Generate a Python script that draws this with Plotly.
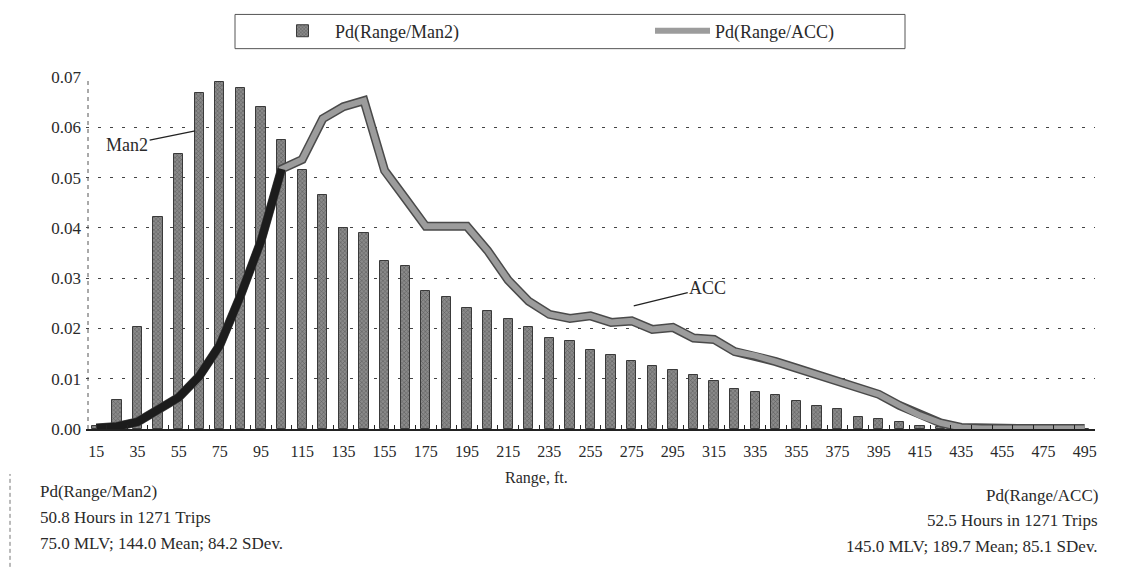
import plotly.graph_objects as go

# ---- data ----
range_ft = [15, 25, 35, 45, 55, 65, 75, 85, 95, 105, 115, 125, 135, 145, 155, 165, 175,
            185, 195, 205, 215, 225, 235, 245, 255, 265, 275, 285, 295, 305, 315, 325,
            335, 345, 355, 365, 375, 385, 395, 405, 415, 425, 435, 445, 455, 465, 475,
            485, 495]
pd_man2 = [0.0005, 0.0058, 0.0202, 0.0421, 0.0546, 0.0668, 0.0690, 0.0679, 0.0641, 0.0575,
           0.0516, 0.0466, 0.0400, 0.0389, 0.0334, 0.0324, 0.0274, 0.0263, 0.0241, 0.0235,
           0.0219, 0.0202, 0.0181, 0.0175, 0.0158, 0.0147, 0.0136, 0.0125, 0.0118, 0.0107,
           0.0095, 0.0080, 0.0073, 0.0067, 0.0056, 0.0046, 0.0040, 0.0024, 0.0019, 0.0013,
           0.0006, 0.0003, 0.0, 0.0, 0.0, 0.0, 0.0, 0.0, 0.0]
pd_acc = [0.0002, 0.0005, 0.0014, 0.0037, 0.0063, 0.0105, 0.0167, 0.0265, 0.0374, 0.0517,
          0.0536, 0.0617, 0.0641, 0.0653, 0.0514, 0.0459, 0.0403, 0.0403, 0.0403, 0.0355,
          0.0296, 0.0254, 0.0228, 0.0220, 0.0225, 0.0212, 0.0215, 0.0198, 0.0202, 0.0181,
          0.0178, 0.0154, 0.0146, 0.0134, 0.0121, 0.0107, 0.0094, 0.0079, 0.0069, 0.0047,
          0.0027, 0.0012, 0.0003, 0.0001, 0.0001, 0.0001, 0.0001, 0.0001, 0.0001]
tick_labels = [15, 35, 55, 75, 95, 115, 135, 155, 175, 195, 215, 235, 255, 275, 295, 315,
               335, 355, 375, 395, 415, 435, 455, 475, 495]
boundary_ticks = [10, 20, 30, 40, 50, 60, 70, 80, 90, 100, 110, 120, 130, 140, 150, 160,
                  170, 180, 190, 200, 210, 220, 230, 240, 250, 260, 270, 280, 290, 300,
                  310, 320, 330, 340, 350, 360, 370, 380, 390, 400, 410, 420, 430, 440,
                  450, 460, 470, 480, 490, 500]
y_ticks = [0.0, 0.01, 0.02, 0.03, 0.04, 0.05, 0.06, 0.07]

SERIF = "'Liberation Serif', 'DejaVu Serif', 'Times New Roman', serif"
INK = "#2a2a2a"

fig = go.Figure()

fig.add_trace(go.Bar(
    x=range_ft, y=pd_man2, name="Pd(Range/Man2)", width=4.5,
    marker=dict(color="#8a8a8a", line=dict(color="#3a3a3a", width=1),
                pattern=dict(shape="x", fgcolor="#2e2e2e", size=3, solidity=0.35)),
))
# outline of the ACC line
fig.add_trace(go.Scatter(
    x=range_ft, y=pd_acc, mode="lines", showlegend=False, hoverinfo="skip",
    line=dict(color="#4a4a4a", width=9),
))
fig.add_trace(go.Scatter(
    x=range_ft, y=pd_acc, mode="lines", name="Pd(Range/ACC)",
    line=dict(color="#9c9c9c", width=6),
))
# darker early part of the line as printed
fig.add_trace(go.Scatter(
    x=range_ft[:10], y=pd_acc[:10], mode="lines", showlegend=False, hoverinfo="skip",
    line=dict(color="#1c1c1c", width=8),
))
# invisible trace that carries the secondary x-axis (category-boundary tick marks)
fig.add_trace(go.Scatter(
    x=range_ft, y=pd_man2, xaxis="x2", mode="lines", showlegend=False,
    hoverinfo="skip", line=dict(width=0, color="rgba(0,0,0,0)"),
))

L, R, T, B = 86, 30, 69, 152
W, H = 1125, 581
pw, ph = W - L - R, H - T - B

def px_x(p):
    return (p - L) / pw

def px_y(p):
    return (H - B - p) / ph

fig.update_layout(
    width=W, height=H,
    margin=dict(l=L, r=R, t=T, b=B),
    paper_bgcolor="white", plot_bgcolor="white",
    font=dict(family=SERIF, size=15, color=INK),
    bargap=0,
    showlegend=True,
    legend=dict(orientation="h", x=px_x(270), xanchor="left", y=px_y(22), yanchor="middle",
                bgcolor="rgba(0,0,0,0)", borderwidth=0, entrywidth=310,
                font=dict(family=SERIF, size=18, color=INK), itemwidth=55),
    xaxis=dict(range=[10, 500], tickmode="array", tickvals=tick_labels,
               ticktext=[str(t) for t in tick_labels], ticks="outside", ticklen=7,
               tickcolor="rgba(0,0,0,0)", showgrid=False,
               showline=True, linecolor="#222", linewidth=1.5, zeroline=False,
               tickfont=dict(family=SERIF, size=16, color=INK)),
    xaxis2=dict(range=[10, 500], overlaying="x", anchor="y", side="bottom",
                tickmode="array", tickvals=boundary_ticks, ticks="inside", ticklen=4,
                tickcolor="#222", tickwidth=1.2, showticklabels=False, showgrid=False,
                zeroline=False, showline=False),
    yaxis=dict(range=[0, 0.07], tickmode="array", tickvals=y_ticks,
               ticktext=["%.2f" % v for v in y_ticks], ticks="",
               showgrid=True, gridcolor="#444", gridwidth=1, griddash="3px,9px",
               zeroline=False, showline=False, ticklabelstandoff=4,
               tickfont=dict(family=SERIF, size=17, color=INK)),
)

shapes = [
    # legend box
    dict(type="rect", xref="paper", yref="paper", x0=px_x(235), x1=px_x(905),
         y0=px_y(40), y1=px_y(5), line=dict(color="#555", width=1)),
    # dashed left axis
    dict(type="line", xref="paper", yref="paper", x0=px_x(88), x1=px_x(88),
         y0=0, y1=1, line=dict(color="#555", width=1, dash="4px,4px")),
    # dashed left edge of the text block
    dict(type="line", xref="paper", yref="paper", x0=px_x(10), x1=px_x(10),
         y0=px_y(570), y1=px_y(475), line=dict(color="#777", width=1, dash="4px,3px")),
]
fig.update_layout(shapes=shapes)

ann = [
    dict(x=63, y=0.0593, xref="x", yref="y", text="Man2", showarrow=True, arrowhead=0,
         arrowwidth=1.3, arrowcolor="#222", ax=-68, ay=14,
         font=dict(family=SERIF, size=18, color=INK)),
    dict(x=276, y=0.0245, xref="x", yref="y", text="ACC", showarrow=True, arrowhead=0,
         arrowwidth=1.3, arrowcolor="#222", ax=74, ay=-18,
         font=dict(family=SERIF, size=18, color=INK)),
    dict(x=px_x(536), y=px_y(479), xref="paper", yref="paper", text="Range, ft.",
         showarrow=False, xanchor="center", yanchor="middle",
         font=dict(family=SERIF, size=16, color=INK)),
]
left_lines = [("Pd(Range/Man2)", 493), ("50.8 Hours in 1271 Trips", 520),
              ("75.0 MLV; 144.0 Mean; 84.2 SDev.", 546)]
right_lines = [("Pd(Range/ACC)", 497), ("52.5 Hours in 1271 Trips", 523),
               ("145.0 MLV; 189.7 Mean; 85.1 SDev.", 549)]
for txt, yy in left_lines:
    ann.append(dict(x=px_x(38), y=px_y(yy), xref="paper", yref="paper", text=txt,
                    showarrow=False, xanchor="left", yanchor="middle",
                    font=dict(family=SERIF, size=17, color=INK)))
for txt, yy in right_lines:
    ann.append(dict(x=px_x(1100), y=px_y(yy), xref="paper", yref="paper", text=txt,
                    showarrow=False, xanchor="right", yanchor="middle",
                    font=dict(family=SERIF, size=17, color=INK)))
fig.update_layout(annotations=ann)

fig.write_html("out.html")
